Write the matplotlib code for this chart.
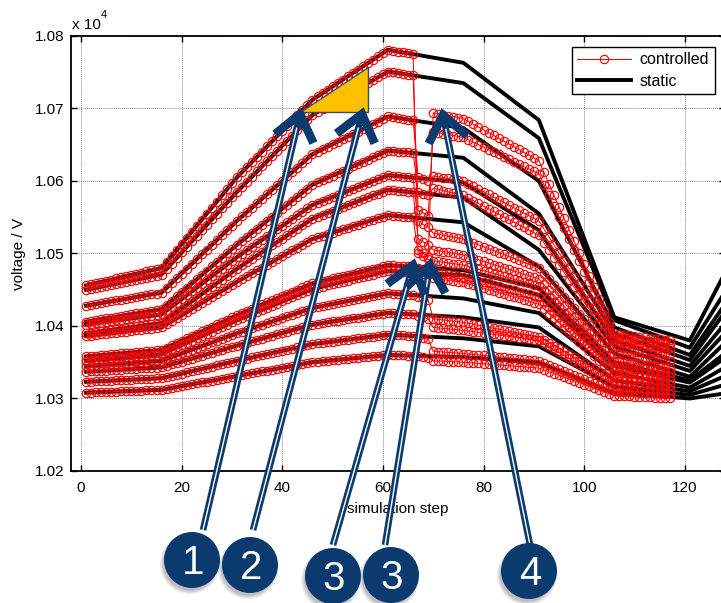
import numpy as np
import matplotlib
matplotlib.use('Agg')
import matplotlib.pyplot as plt
from matplotlib.patches import Circle, Polygon

plt.rcParams['font.family'] = ['Liberation Sans', 'DejaVu Sans']

# load profile steps of the static run (values in units of 1e4 V)
steps_static = [1, 16, 31, 46, 61, 76, 91, 106, 121, 136]
static_v = [
    [1.0456, 1.0480, 1.0605, 1.0712, 1.0781, 1.0763, 1.0684, 1.0412, 1.0380, 1.0580],
    [1.0450, 1.0471, 1.0585, 1.0691, 1.0751, 1.0735, 1.0659, 1.0408, 1.0370, 1.0535],
    [1.0428, 1.0446, 1.0545, 1.0637, 1.0689, 1.0673, 1.0600, 1.0398, 1.0360, 1.0510],
    [1.0406, 1.0423, 1.0512, 1.0595, 1.0642, 1.0632, 1.0555, 1.0390, 1.0353, 1.0495],
    [1.0402, 1.0416, 1.0495, 1.0567, 1.0608, 1.0598, 1.0532, 1.0380, 1.0345, 1.0470],
    [1.0390, 1.0404, 1.0479, 1.0548, 1.0588, 1.0577, 1.0505, 1.0372, 1.0338, 1.0450],
    [1.0386, 1.0398, 1.0461, 1.0520, 1.0553, 1.0543, 1.0482, 1.0362, 1.0330, 1.0430],
    [1.0358, 1.0367, 1.0415, 1.0459, 1.0484, 1.0477, 1.0452, 1.0350, 1.0325, 1.0405],
    [1.0352, 1.0361, 1.0408, 1.0451, 1.0476, 1.0470, 1.0443, 1.0345, 1.0322, 1.0395],
    [1.0345, 1.0352, 1.0390, 1.0425, 1.0445, 1.0438, 1.0418, 1.0335, 1.0315, 1.0375],
    [1.0337, 1.0343, 1.0373, 1.0402, 1.0418, 1.0412, 1.0398, 1.0325, 1.0310, 1.0355],
    [1.0323, 1.0328, 1.0352, 1.0375, 1.0388, 1.0383, 1.0372, 1.0316, 1.0305, 1.0335],
    [1.0308, 1.0312, 1.0331, 1.0350, 1.0360, 1.0357, 1.0350, 1.0308, 1.0300, 1.0315],
]

# controlled run: identical to static up to step 66, then these values
ctrl_split = 66
steps_tail = [67, 68, 69, 70, 76, 91, 106, 117]
ctrl_tail = [
    [1.0505, 1.0500, 1.0495, 1.0694, 1.0686, 1.0628, 1.0390, 1.0380],
    [1.0560, 1.0556, 1.0552, 1.0668, 1.0660, 1.0610, 1.0385, 1.0375],
    [1.0606, 1.0603, 1.0600, 1.0607, 1.0600, 1.0545, 1.0380, 1.0370],
    [1.0585, 1.0582, 1.0580, 1.0590, 1.0580, 1.0525, 1.0372, 1.0362],
    [1.0545, 1.0540, 1.0537, 1.0528, 1.0520, 1.0480, 1.0362, 1.0352],
    [1.0520, 1.0516, 1.0512, 1.0505, 1.0498, 1.0465, 1.0352, 1.0342],
    [1.0500, 1.0496, 1.0492, 1.0490, 1.0484, 1.0455, 1.0345, 1.0336],
    [1.0480, 1.0478, 1.0476, 1.0475, 1.0468, 1.0440, 1.0338, 1.0330],
    [1.0474, 1.0472, 1.0470, 1.0466, 1.0460, 1.0430, 1.0333, 1.0325],
    [1.0440, 1.0438, 1.0436, 1.0410, 1.0405, 1.0385, 1.0325, 1.0318],
    [1.0414, 1.0412, 1.0410, 1.0398, 1.0394, 1.0380, 1.0318, 1.0312],
    [1.0385, 1.0383, 1.0382, 1.0365, 1.0362, 1.0352, 1.0310, 1.0306],
    [1.0358, 1.0357, 1.0356, 1.0352, 1.0350, 1.0342, 1.0304, 1.0300],
]
last_step = 117

x_ticks = [0, 20, 40, 60, 80, 100, 120]
y_ticks = [1.02, 1.03, 1.04, 1.05, 1.06, 1.07, 1.08]

W, H = 721, 603
fig = plt.figure(figsize=(W / 100, H / 100), dpi=100)
ax = fig.add_axes([71 / W, 1 - 471 / H, 654 / W, 435 / H])

for row in static_v:
    hs, = ax.plot(steps_static, row, color='black', lw=2.8, zorder=2)

steps = np.arange(1, last_step + 1)
for row, tail in zip(static_v, ctrl_tail):
    kx = [s for s in steps_static if s < ctrl_split] + [ctrl_split]
    ky = list(np.interp(kx, steps_static, row))
    kx = kx + steps_tail
    ky = ky + tail
    hc, = ax.plot(steps, np.interp(steps, kx, ky), color='red', lw=0.75,
                  marker='o', ms=6.0, mfc='none', mew=0.85, zorder=3)

ax.set_xlim(-2, 128)
ax.set_ylim(1.02, 1.08)
ax.set_xticks(x_ticks)
ax.set_yticks(y_ticks)
ax.set_yticklabels(['%.2f' % v for v in y_ticks])
ax.tick_params(direction='in', length=4, width=1, top=True, right=True,
               labelsize=11, pad=5)
ax.tick_params(axis='x', pad=7)
for sp in ax.spines.values():
    sp.set_linewidth(1.3)
ax.grid(True, color='#8a8a8a', lw=0.7, ls=(0, (1, 1)))
ax.set_axisbelow(True)
ax.set_xlabel('simulation step', fontsize=11, labelpad=5)
ax.set_ylabel('voltage / V', fontsize=11, labelpad=6)

leg = ax.legend([hc, hs], ['controlled', 'static'], loc='upper right',
                bbox_to_anchor=(0.984, 0.975), fontsize=11.5, fancybox=False,
                framealpha=1, edgecolor='black', borderpad=0.35,
                handlelength=3.4, labelspacing=0.4, handletextpad=0.5,
                borderaxespad=0)
leg.get_frame().set_linewidth(1.0)

# overlay in pixel coordinates for the annotations
ov = fig.add_axes([0, 0, 1, 1], zorder=10)
ov.set_xlim(0, W)
ov.set_ylim(H, 0)
ov.axis('off')

ov.text(72, 29, 'x 10', fontsize=11, ha='left', va='baseline')
ov.text(101, 18, '4', fontsize=8, ha='left', va='baseline')

navy = '#0b3a6e'
ov.add_patch(Polygon([(300, 112), (368, 112), (368, 67)], closed=True,
                     facecolor='#ffc000', edgecolor='#34506e', lw=1, zorder=1))


def arrow(base, tip):
    b = np.array(base, float)
    t = np.array(tip, float)
    u = (t - b) / np.linalg.norm(t - b)
    s = t - u * 6
    ov.plot([b[0], s[0]], [b[1], s[1]], color=navy, lw=4.8,
            solid_capstyle='butt', zorder=2)
    w = t - u * 14
    ov.plot([b[0], w[0]], [b[1], w[1]], color='white', lw=1.0,
            solid_capstyle='butt', zorder=3)
    pts = []
    for a in (np.radians(38), -np.radians(38)):
        r = np.array([[np.cos(a), -np.sin(a)], [np.sin(a), np.cos(a)]])
        pts.append(t + r @ (-u) * 32)
    ov.plot([pts[0][0], t[0], pts[1][0]], [pts[0][1], t[1], pts[1][1]],
            color=navy, lw=6.2, solid_joinstyle='miter',
            solid_capstyle='butt', zorder=4)


arrow((203, 530), (300, 114))
arrow((253, 530), (362, 114))
arrow((333, 545), (413, 265))
arrow((385, 545), (430, 265))
arrow((530, 545), (443, 115))

bubbles = [(192, 560, '1'), (250, 565, '2'), (333, 576, '3'),
           (391, 575, '3'), (529, 571, '4')]
for cx, cy, lab in bubbles:
    for k, al in enumerate([0.10, 0.12, 0.15]):
        ov.add_patch(Circle((cx - 2, cy + 4), 30 - k * 1.5, facecolor='#404040',
                            edgecolor='none', alpha=al, zorder=5))
    ov.add_patch(Circle((cx, cy), 28, facecolor=navy, edgecolor='none', zorder=6))
    ov.text(cx + 1, cy + 3, lab, color='white', fontsize=29, ha='center',
            va='center', zorder=7)

fig.savefig('out.png', dpi=100)
